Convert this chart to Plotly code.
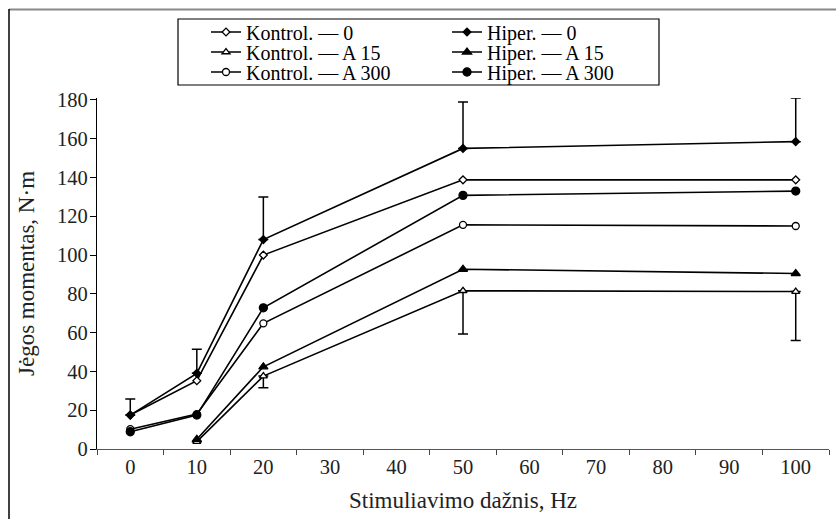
import plotly.graph_objects as go

# ---- data ----
categories = ["0", "10", "20", "30", "40", "50", "60", "70", "80", "90", "100"]
x_full = ["0", "10", "20", "50", "100"]
x_a15 = ["10", "20", "50", "100"]

kontrol_0 = [17.5, 35.2, 100.0, 138.8, 138.8]
hiper_0 = [17.5, 39.0, 108.0, 155.0, 158.5]
hiper_0_err = [8.3, 12.4, 22.0, 24.0, 22.5]

kontrol_a15 = [3.8, 37.6, 81.6, 81.2]
kontrol_a15_err = [0, 6.0, 22.3, 25.2]
hiper_a15 = [5.0, 42.4, 92.7, 90.5]

kontrol_a300 = [10.2, 18.0, 64.8, 115.6, 115.0]
hiper_a300 = [8.9, 17.5, 72.8, 130.8, 133.0]

y_ticks = [0, 20, 40, 60, 80, 100, 120, 140, 160, 180]

W, H = 836, 519
L, R, T, B = 97, 7, 98, 70
PW, PH = W - L - R, H - T - B
Y_MAX = 181.0

FONT = "Liberation Serif"
LINE = dict(color="black", width=1.6)


def px_x(p):
    return (p - L) / PW


def px_y(p):
    return 1 - (p - T) / PH


fig = go.Figure()

# legend slot positions (pixel) : (glyph-left x, row centre y)
COL1, COL2 = 206, 447
ROWS = [32, 52, 72]
legend_layouts = {}


def add(name, x, y, symbol, size, filled, slot, err=None, err_dir=None):
    marker = dict(symbol=symbol, size=size, color="black" if filled else "white",
                  line=dict(color="black", width=1.3))
    kw = {}
    if err is not None:
        if err_dir == "up":
            kw["error_y"] = dict(type="data", symmetric=False, array=err,
                                 arrayminus=[0] * len(err), color="black",
                                 thickness=1.5, width=5)
        else:
            kw["error_y"] = dict(type="data", symmetric=False, array=[0] * len(err),
                                 arrayminus=err, color="black",
                                 thickness=1.5, width=5)
    idx = len(fig.data) + 1
    lname = "legend" if idx == 1 else f"legend{idx}"
    fig.add_trace(go.Scatter(x=x, y=y, name=name, mode="lines+markers",
                             line=LINE, marker=marker, legend=lname,
                             cliponaxis=False, **kw))
    col, row = slot
    legend_layouts[lname] = dict(
        x=px_x(col), y=px_y(row), xanchor="left", yanchor="middle",
        font=dict(family=FONT, size=20, color="black"),
        bgcolor="rgba(0,0,0,0)", borderwidth=0,
        itemclick=False, itemdoubleclick=False)


add("Kontrol. — 0", x_full, kontrol_0, "diamond", 6, False, (COL1, ROWS[0]))
add("Kontrol. — A 15", x_a15, kontrol_a15, "triangle-up", 7, False, (COL1, ROWS[1]),
    kontrol_a15_err, "down")
add("Kontrol. — A 300", x_full, kontrol_a300, "circle", 7, False, (COL1, ROWS[2]))
add("Hiper. — 0", x_full, hiper_0, "diamond", 6, True, (COL2, ROWS[0]),
    hiper_0_err, "up")
add("Hiper. — A 15", x_a15, hiper_a15, "triangle-up", 8, True, (COL2, ROWS[1]))
add("Hiper. — A 300", x_full, hiper_a300, "circle", 8, True, (COL2, ROWS[2]))

fig.update_layout(
    width=W, height=H,
    margin=dict(l=L, r=R, t=T, b=B),
    paper_bgcolor="white", plot_bgcolor="white",
    font=dict(family=FONT, size=20, color="black"),
    showlegend=True,
    xaxis=dict(type="category", categoryorder="array", categoryarray=categories,
               range=[-0.5, 10.5], tickson="boundaries", ticks="outside",
               ticklen=5, tickcolor="#444", tickwidth=1.2,
               showline=True, linecolor="#555", linewidth=1.3,
               showgrid=False, zeroline=False, ticklabelstandoff=-1,
               tickfont=dict(family=FONT, size=20.5, color="#222"),
               title=dict(text="Stimuliavimo dažnis, Hz", standoff=15,
                          font=dict(family=FONT, size=23, color="#222"))),
    yaxis=dict(range=[0, Y_MAX], tickmode="array", tickvals=y_ticks,
               ticks="outside", ticklen=6, tickcolor="black", tickwidth=1.2,
               showline=True, linecolor="black", linewidth=1.3,
               showgrid=False, zeroline=False, ticklabelstandoff=-2,
               tickfont=dict(family=FONT, size=20.5, color="#222"),
               title=dict(text="Jėgos momentas, N·m", standoff=15,
                          font=dict(family=FONT, size=23, color="#222"))),
    shapes=[
        dict(type="line", xref="paper", yref="paper",
             x0=px_x(9), x1=px_x(836), y0=px_y(9.5), y1=px_y(9.5),
             line=dict(color="#888", width=2)),
        dict(type="line", xref="paper", yref="paper",
             x0=px_x(9), x1=px_x(9), y0=px_y(9), y1=px_y(519),
             line=dict(color="black", width=1.5)),
        dict(type="rect", xref="paper", yref="paper",
             x0=px_x(178), x1=px_x(659), y0=px_y(19), y1=px_y(85),
             line=dict(color="black", width=1.2), fillcolor="rgba(0,0,0,0)"),
    ],
    **legend_layouts,
)

fig.write_html("out.html",
               config={"displayModeBar": False},
               post_script="document.body.style.margin='0';"
                           "document.body.style.overflow='hidden';")
